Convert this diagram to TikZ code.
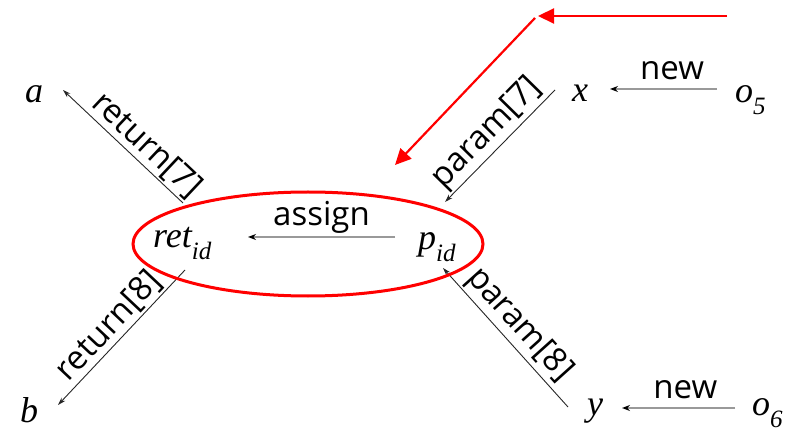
\documentclass[tikz,border=0pt]{standalone}
\usepackage{fontspec}
\setmainfont{Liberation Serif}
\setsansfont{Open Sans}
\usetikzlibrary{arrows.meta}
\newcommand\vsub[1]{\raisebox{-12pt}{\fontsize{25}{27}\selectfont #1}}
\begin{document}
\begin{tikzpicture}[x=1pt,y=-1pt,
  var/.style={font=\fontsize{36}{40}\selectfont\itshape, inner sep=0pt, anchor=base west},
  lbl/.style={font=\sffamily\fontsize{33}{36}\selectfont, inner sep=2pt},
  blk/.style={draw=black!85, line width=0.9pt, -{Stealth[length=8pt,width=5pt]}},
  gry/.style={draw=black!40, line width=1.8pt, -{Stealth[length=8pt,width=6pt,color=black]}},
  redarr/.style={draw=red, line width=2.2pt, -{Triangle[length=16pt,width=15pt]}}
]
\useasboundingbox (0,0) rectangle (794,435);
% variables
\node[var] (a) at (25,103) {a};
\node[var] (b) at (20,422) {b};
\node[var] (ret) at (153,248) {ret\vsub{id}};
\node[var] (p) at (418,250) {p\vsub{id}};
\node[var] (x) at (572,102) {x};
\node[var] (o5) at (735,103) {o\vsub{5}};
\node[var] (y) at (587,415) {y};
\node[var] (o6) at (752,415) {o\vsub{6}};
% connector end points
\coordinate (r7s) at (183,203);
\coordinate (r7e) at (63,90);
\coordinate (r8s) at (185,270);
\coordinate (r8e) at (58,405);
\coordinate (p7s) at (555,90);
\coordinate (p7e) at (445,202);
\coordinate (p8s) at (568,407);
\coordinate (p8e) at (443,268);
\coordinate (n5s) at (717,89);
\coordinate (n5e) at (610,89);
\coordinate (n6s) at (735,408);
\coordinate (n6e) at (622,408);
\coordinate (as) at (395,237);
\coordinate (ae) at (248,237);
% edges
\draw[blk] (r7s) -- node[lbl, sloped, above=0pt, pos=0.4] {return[7]} (r7e);
\draw[blk] (r8s) -- node[lbl, sloped, above=0pt, pos=0.5] {return[8]} (r8e);
\draw[blk] (p7s) -- node[lbl, sloped, above=0pt, pos=0.5] {param[7]} (p7e);
\draw[blk] (p8s) -- node[lbl, sloped, above=0pt, pos=0.5] {param[8]} (p8e);
\draw[gry] (n5s) -- node[lbl, above=6pt, pos=0.42] {new} (n5e);
\draw[gry] (n6s) -- node[lbl, above=6pt, pos=0.44] {new} (n6e);
\draw[gry] (as) -- node[lbl, above=1pt, pos=0.5] {assign} (ae);
% red highlight
\draw[red, line width=3pt] (308,244) ellipse [x radius=175, y radius=52];
\coordinate (h1) at (727,16);
\coordinate (h2) at (538,16);
\coordinate (h3) at (535,18);
\coordinate (h4) at (395,165);
\draw[redarr] (h1) -- (h2);
\draw[redarr] (h3) -- (h4);
\end{tikzpicture}
\end{document}
